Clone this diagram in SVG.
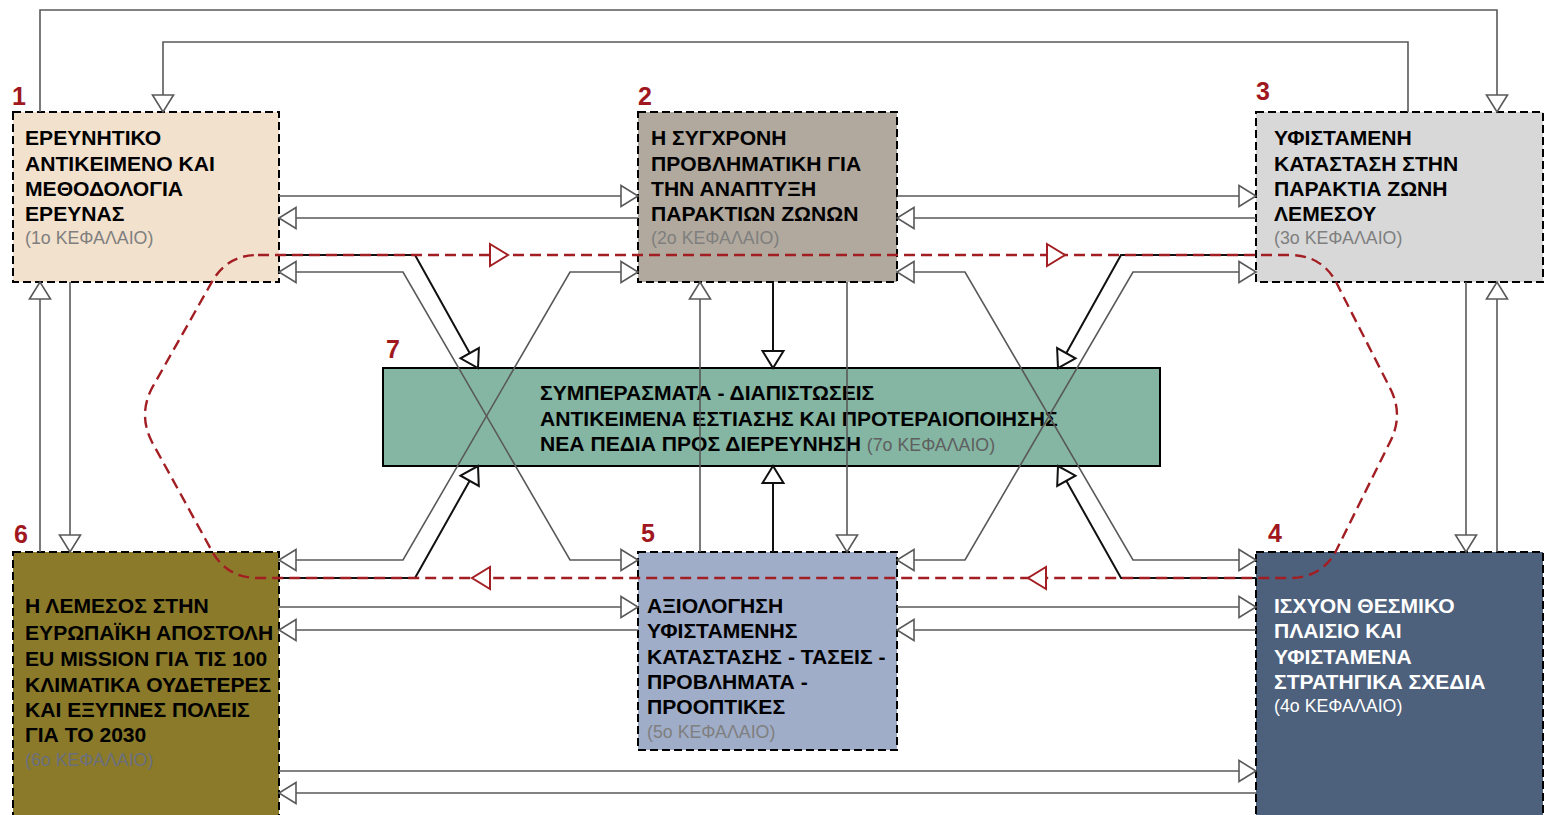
<svg xmlns="http://www.w3.org/2000/svg" width="1545" height="815" viewBox="0 0 1545 815">
<style>
.box{stroke:#000;stroke-width:2;stroke-dasharray:8 4}
.t{font-family:"Liberation Sans",Arial,sans-serif;font-weight:bold;font-size:21.1px;fill:#000}
.s{font-family:"Liberation Sans",Arial,sans-serif;font-weight:normal;font-size:17.8px;fill:#7f7f7f}
.num{font-family:"Liberation Sans",Arial,sans-serif;font-weight:bold;font-size:25px;fill:#A0181E}
.g{fill:none;stroke:#595959;stroke-width:1.6}
.k{fill:none;stroke:#111;stroke-width:2}
.r{fill:none;stroke:#A31E23;stroke-width:2.4;stroke-dasharray:11 6}
.ra{fill:#fff;stroke:#A31E23;stroke-width:2}
</style>
<defs>
<marker id="ag" viewBox="-2 -2 22 25" refX="17" refY="10.5" markerWidth="22" markerHeight="25" markerUnits="userSpaceOnUse" orient="auto-start-reverse" overflow="visible">
<path d="M0,0 L17,10.5 L0,21 Z" fill="#fff" stroke="#595959" stroke-width="1.6"/>
</marker>
<marker id="ak" viewBox="-2 -2 22 25" refX="17" refY="10.5" markerWidth="22" markerHeight="25" markerUnits="userSpaceOnUse" orient="auto-start-reverse" overflow="visible">
<path d="M0,0 L17,10.5 L0,21 Z" fill="#fff" stroke="#111" stroke-width="2"/>
</marker>
<path id="redArrow" d="M-18,-11 L0,0 L-18,11 Z"/>
</defs>
<rect width="1545" height="815" fill="#fff"/>

<g id="node1">
<rect class="box" x="13" y="112" width="266" height="170" fill="#F2E1CD"/>
<text class="num" x="12" y="105">1</text>
<text class="t"><tspan x="25" y="145">ΕΡΕΥΝΗΤΙΚΟ</tspan><tspan x="25" y="170.5">ΑΝΤΙΚΕΙΜΕΝΟ ΚΑΙ</tspan><tspan x="25" y="196">ΜΕΘΟΔΟΛΟΓΙΑ</tspan><tspan x="25" y="221">ΕΡΕΥΝΑΣ</tspan></text>
<text class="s" x="25" y="244">(1ο ΚΕΦΑΛΑΙΟ)</text>
</g>
<g id="node2">
<rect class="box" x="638" y="112" width="259" height="170" fill="#B1A99D"/>
<text class="num" x="638" y="105">2</text>
<text class="t"><tspan x="651" y="145">Η ΣΥΓΧΡΟΝΗ</tspan><tspan x="651" y="170.5">ΠΡΟΒΛΗΜΑΤΙΚΗ ΓΙΑ</tspan><tspan x="651" y="196">ΤΗΝ ΑΝΑΠΤΥΞΗ</tspan><tspan x="651" y="221">ΠΑΡΑΚΤΙΩΝ ΖΩΝΩΝ</tspan></text>
<text class="s" x="651" y="244">(2ο ΚΕΦΑΛΑΙΟ)</text>
</g>
<g id="node3">
<rect class="box" x="1256" y="112" width="287" height="170" fill="#D8D8D8"/>
<text class="num" x="1256" y="100">3</text>
<text class="t"><tspan x="1274" y="145">ΥΦΙΣΤΑΜΕΝΗ</tspan><tspan x="1274" y="170.5">ΚΑΤΑΣΤΑΣΗ ΣΤΗΝ</tspan><tspan x="1274" y="196">ΠΑΡΑΚΤΙΑ ΖΩΝΗ</tspan><tspan x="1274" y="221">ΛΕΜΕΣΟΥ</tspan></text>
<text class="s" x="1274" y="244">(3ο ΚΕΦΑΛΑΙΟ)</text>
</g>
<g id="node6">
<rect class="box" x="13" y="552" width="266" height="270" fill="#8A7A2A"/>
<text class="num" x="14" y="543">6</text>
<text class="t"><tspan x="25" y="613">Η ΛΕΜΕΣΟΣ ΣΤΗΝ</tspan><tspan x="25" y="640">ΕΥΡΩΠΑΪΚΗ ΑΠΟΣΤΟΛΗ</tspan><tspan x="25" y="666">EU MISSION ΓΙΑ ΤΙΣ 100</tspan><tspan x="25" y="691.5">ΚΛΙΜΑΤΙΚΑ ΟΥΔΕΤΕΡΕΣ</tspan><tspan x="25" y="717">ΚΑΙ ΕΞΥΠΝΕΣ ΠΟΛΕΙΣ</tspan><tspan x="25" y="742">ΓΙΑ ΤΟ 2030</tspan></text>
<text class="s" x="25" y="766" style="fill:#6A6F7E">(6ο ΚΕΦΑΛΑΙΟ)</text>
</g>
<g id="node5">
<rect class="box" x="638" y="552" width="259" height="198" fill="#9FADC8"/>
<text class="num" x="641" y="542">5</text>
<text class="t"><tspan x="647" y="613">ΑΞΙΟΛΟΓΗΣΗ</tspan><tspan x="647" y="638">ΥΦΙΣΤΑΜΕΝΗΣ</tspan><tspan x="647" y="663.5">ΚΑΤΑΣΤΑΣΗΣ - ΤΑΣΕΙΣ -</tspan><tspan x="647" y="689">ΠΡΟΒΛΗΜΑΤΑ -</tspan><tspan x="647" y="714">ΠΡΟΟΠΤΙΚΕΣ</tspan></text>
<text class="s" x="647" y="738">(5ο ΚΕΦΑΛΑΙΟ)</text>
</g>
<g id="node4">
<rect class="box" x="1256" y="552" width="287" height="270" fill="#4D607C"/>
<text class="num" x="1268" y="542">4</text>
<text class="t" style="fill:#fff"><tspan x="1274" y="613">ΙΣΧΥΟΝ ΘΕΣΜΙΚΟ</tspan><tspan x="1274" y="638">ΠΛΑΙΣΙΟ ΚΑΙ</tspan><tspan x="1274" y="663.5">ΥΦΙΣΤΑΜΕΝΑ</tspan><tspan x="1274" y="689">ΣΤΡΑΤΗΓΙΚΑ ΣΧΕΔΙΑ</tspan></text>
<text class="s" x="1274" y="712" style="fill:#fff">(4ο ΚΕΦΑΛΑΙΟ)</text>
</g>
<g id="node7">
<rect x="383" y="368" width="777" height="98" fill="#84B6A3" stroke="#000" stroke-width="2"/>
<text class="num" x="386" y="358">7</text>
<text class="t"><tspan x="540" y="400">ΣΥΜΠΕΡΑΣΜΑΤΑ - ΔΙΑΠΙΣΤΩΣΕΙΣ</tspan><tspan x="540" y="425.5">ΑΝΤΙΚΕΙΜΕΝΑ ΕΣΤΙΑΣΗΣ ΚΑΙ ΠΡΟΤΕΡΑΙΟΠΟΙΗΣΗΣ</tspan><tspan x="540" y="451">ΝΕΑ ΠΕΔΙΑ ΠΡΟΣ ΔΙΕΡΕΥΝΗΣΗ <tspan style="font-weight:normal;font-size:17.8px;fill:#5f5f5f">(7ο ΚΕΦΑΛΑΙΟ)</tspan></tspan></text>
</g>

<g id="connectors">
<path class="g" d="M40,112 V10 H1497 V112" marker-end="url(#ag)"/>
<path class="g" d="M1408,112 V42 H163 V112" marker-end="url(#ag)"/>
<path class="g" d="M279,196 H638" marker-end="url(#ag)"/>
<path class="g" d="M638,218 H279" marker-end="url(#ag)"/>
<path class="g" d="M897,196 H1256" marker-end="url(#ag)"/>
<path class="g" d="M1256,218 H897" marker-end="url(#ag)"/>
<path class="g" d="M279,272 H403 L570,560 H638" marker-start="url(#ag)" marker-end="url(#ag)"/>
<path class="g" d="M279,560 H403 L570,272 H638" marker-start="url(#ag)" marker-end="url(#ag)"/>
<path class="g" d="M897,272 H965 L1133,560 H1256" marker-start="url(#ag)" marker-end="url(#ag)"/>
<path class="g" d="M897,560 H965 L1133,272 H1256" marker-start="url(#ag)" marker-end="url(#ag)"/>
<path class="g" d="M700,552 V282" marker-end="url(#ag)"/>
<path class="g" d="M847,282 V552" marker-end="url(#ag)"/>
<path class="g" d="M40,552 V282" marker-end="url(#ag)"/>
<path class="g" d="M70,282 V552" marker-end="url(#ag)"/>
<path class="g" d="M1466,282 V552" marker-end="url(#ag)"/>
<path class="g" d="M1497,552 V282" marker-end="url(#ag)"/>
<path class="g" d="M279,607 H638" marker-end="url(#ag)"/>
<path class="g" d="M638,630 H279" marker-end="url(#ag)"/>
<path class="g" d="M897,607 H1256" marker-end="url(#ag)"/>
<path class="g" d="M1256,630 H897" marker-end="url(#ag)"/>
<path class="g" d="M279,771 H1256" marker-end="url(#ag)"/>
<path class="g" d="M1256,793 H279" marker-end="url(#ag)"/>
<path class="k" d="M773,282 V368" marker-end="url(#ak)"/>
<path class="k" d="M773,552 V466" marker-end="url(#ak)"/>
<path class="k" d="M279,255 H415 L478,368" marker-end="url(#ak)"/>
<path class="k" d="M1256,255 H1121 L1058,368" marker-end="url(#ak)"/>
<path class="k" d="M279,578 H415 L478,466" marker-end="url(#ak)"/>
<path class="k" d="M1256,578 H1121 L1058,466" marker-end="url(#ak)"/>
<path class="r" d="M258,255 L1290,255 Q1320,255 1335,280 L1390,388 Q1404,415 1390,442 L1335,553 Q1320,578 1290,578 L258,578 Q228,578 213,553 L152,442 Q138,415 152,388 L213,280 Q228,255 258,255 Z"/>
<use href="#redArrow" class="ra" transform="translate(508,255)"/>
<use href="#redArrow" class="ra" transform="translate(1065,255)"/>
<use href="#redArrow" class="ra" transform="translate(472,578) rotate(180)"/>
<use href="#redArrow" class="ra" transform="translate(1028,578) rotate(180)"/>
</g>
</svg>
